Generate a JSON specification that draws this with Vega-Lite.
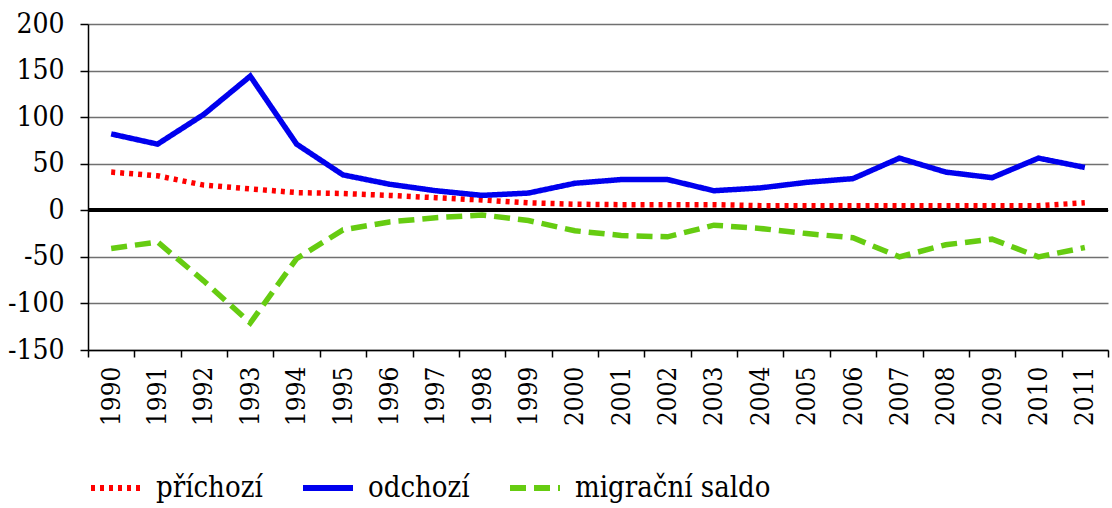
{
  "$schema": "https://vega.github.io/schema/vega-lite/v6.json",
  "width": 1020,
  "height": 326,
  "autosize": {"type": "none"},
  "padding": {"left": 88, "top": 24, "right": 4, "bottom": 158},
  "background": "white",
  "config": {
    "view": {"stroke": null},
    "font": "DejaVu Serif Condensed, DejaVu Serif",
    "axis": {"labelFont": "DejaVu Serif Condensed, DejaVu Serif", "labelColor": "black", "domainColor": "black", "tickColor": "black"},
    "legend": {"labelFont": "DejaVu Serif Condensed, DejaVu Serif"}
  },
  "data": {
    "values": [
      {"year": "1990", "příchozí": 41, "odchozí": 82, "migrační saldo": -41},
      {"year": "1991", "příchozí": 37, "odchozí": 71, "migrační saldo": -34},
      {"year": "1992", "příchozí": 27, "odchozí": 103, "migrační saldo": -76},
      {"year": "1993", "příchozí": 23, "odchozí": 144, "migrační saldo": -121},
      {"year": "1994", "příchozí": 19, "odchozí": 71, "migrační saldo": -52},
      {"year": "1995", "příchozí": 18, "odchozí": 38, "migrační saldo": -21},
      {"year": "1996", "příchozí": 16, "odchozí": 28, "migrační saldo": -12.5},
      {"year": "1997", "příchozí": 13.5, "odchozí": 21, "migrační saldo": -8},
      {"year": "1998", "příchozí": 11, "odchozí": 16, "migrační saldo": -5},
      {"year": "1999", "příchozí": 8, "odchozí": 18.5, "migrační saldo": -11},
      {"year": "2000", "příchozí": 6.5, "odchozí": 29, "migrační saldo": -22},
      {"year": "2001", "příchozí": 6, "odchozí": 33, "migrační saldo": -27},
      {"year": "2002", "příchozí": 6, "odchozí": 33, "migrační saldo": -28.5},
      {"year": "2003", "příchozí": 6, "odchozí": 21, "migrační saldo": -16},
      {"year": "2004", "příchozí": 5, "odchozí": 24, "migrační saldo": -19.5},
      {"year": "2005", "příchozí": 5, "odchozí": 30, "migrační saldo": -25},
      {"year": "2006", "příchozí": 5, "odchozí": 34, "migrační saldo": -29.5},
      {"year": "2007", "příchozí": 5, "odchozí": 56, "migrační saldo": -50},
      {"year": "2008", "příchozí": 5, "odchozí": 41, "migrační saldo": -37},
      {"year": "2009", "příchozí": 5, "odchozí": 35, "migrační saldo": -31},
      {"year": "2010", "příchozí": 5, "odchozí": 56, "migrační saldo": -50},
      {"year": "2011", "příchozí": 8, "odchozí": 46, "migrační saldo": -40}
    ]
  },
  "layer": [
    {
      "mark": {"type": "rule", "color": "black", "strokeWidth": 3},
      "encoding": {"y": {"datum": 0, "type": "quantitative"}}
    },
    {
      "transform": [{"fold": ["příchozí", "odchozí", "migrační saldo"], "as": ["series", "value"]}],
      "mark": {"type": "line", "strokeWidth": 5.5, "strokeCap": "butt", "strokeJoin": "miter"},
      "encoding": {
        "x": {
          "field": "year", "type": "ordinal", "title": null,
          "scale": {"paddingInner": 0, "paddingOuter": 0},
          "axis": {"labelAngle": -90, "labelFontSize": 26, "labelPadding": 9, "tickSize": 7, "tickBand": "extent", "domainWidth": 1.5, "tickWidth": 1.5}
        },
        "y": {
          "field": "value", "type": "quantitative", "title": null,
          "scale": {"domain": [-150, 200], "nice": false, "zero": false},
          "axis": {"values": [-150, -100, -50, 0, 50, 100, 150, 200], "labelExpr": "toString(datum.value)", "labelFontSize": 28, "labelPadding": 16, "tickSize": 8, "grid": true, "gridColor": "#707070", "gridWidth": 1.5, "domainWidth": 1.5, "tickWidth": 1.5}
        },
        "color": {
          "field": "series", "type": "nominal", "title": null,
          "scale": {"domain": ["příchozí", "odchozí", "migrační saldo"], "range": ["#ff0000", "#0000ee", "#66cc11"]},
          "legend": {
            "orient": "none", "direction": "horizontal", "legendX": 0, "legendY": 436,
            "labelFontSize": 29, "labelColor": "black", "labelLimit": 400, "symbolType": "stroke", "symbolSize": 2500, "symbolStrokeWidth": 6,
            "columnPadding": 28, "labelOffset": 12, "padding": 0
          }
        },
        "strokeDash": {
          "field": "series", "type": "nominal", "title": null,
          "scale": {"domain": ["příchozí", "odchozí", "migrační saldo"], "range": [[4, 5], [1, 0], [16, 8]]},
          "legend": {
            "orient": "none", "direction": "horizontal", "legendX": 0, "legendY": 436,
            "labelFontSize": 29, "labelColor": "black", "labelLimit": 400, "symbolType": "stroke", "symbolSize": 2500, "symbolStrokeWidth": 6,
            "columnPadding": 28, "labelOffset": 12, "padding": 0
          }
        }
      }
    }
  ]
}
